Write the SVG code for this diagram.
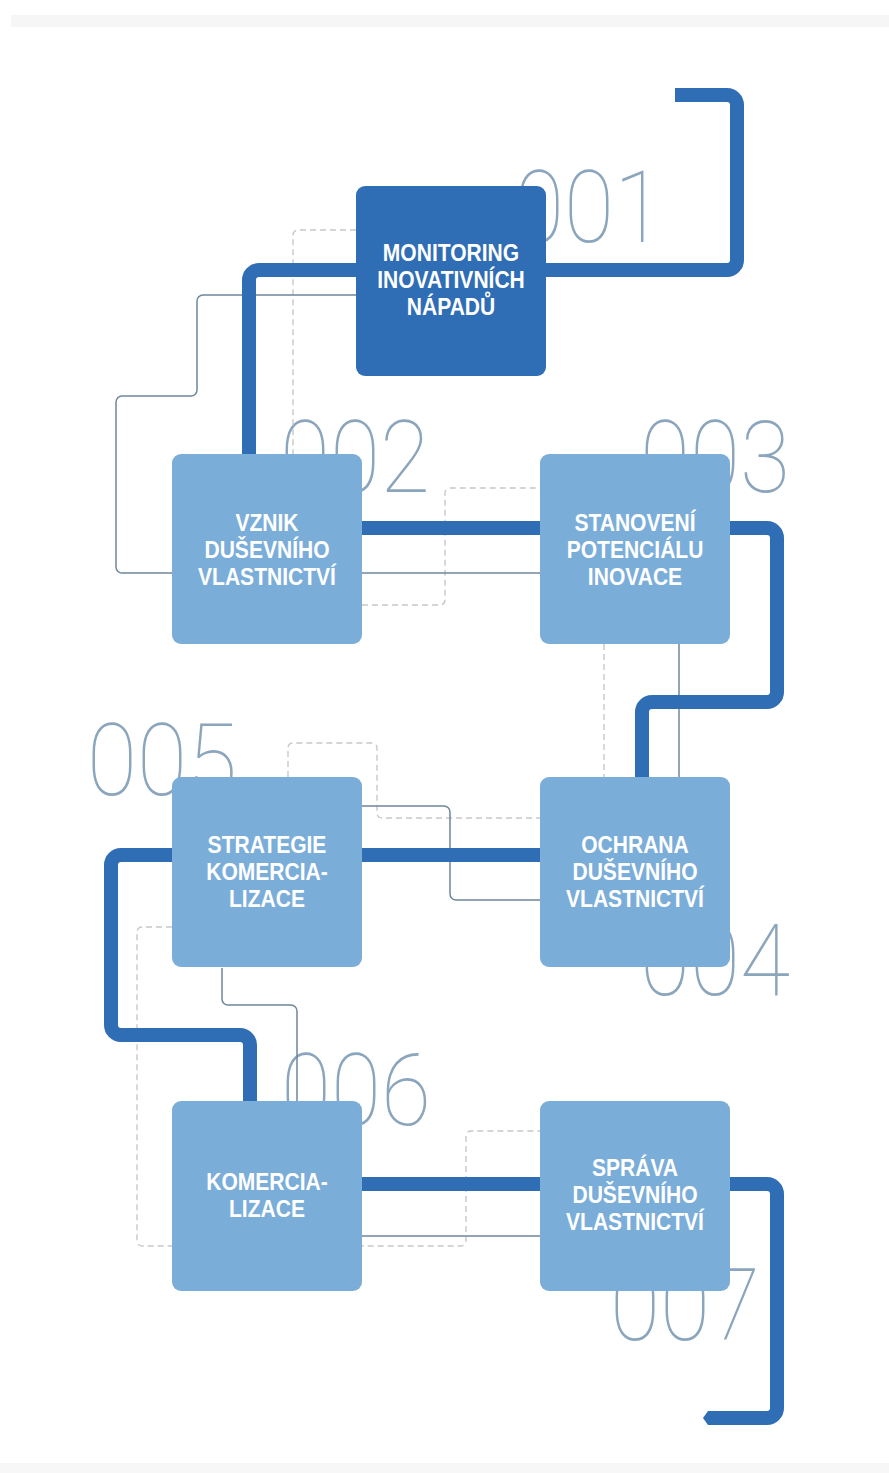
<svg xmlns="http://www.w3.org/2000/svg" width="889" height="1473" viewBox="0 0 889 1473">
<style>
.thick{fill:none;stroke:#2f6db5;stroke-width:14}
.thin{fill:none;stroke:#6f879b;stroke-width:1.5}
.dash{fill:none;stroke:#c8c8c8;stroke-width:1.4;stroke-dasharray:6 4}
.num{font-family:Roboto,"Open Sans",sans-serif;font-weight:100;font-size:101px;fill:#8ba5bc}
.lbl{font-family:"Liberation Sans",Arial,sans-serif;font-weight:bold;font-size:23px;fill:#ffffff;text-anchor:middle}
.dark{fill:#2f6db5}
.light{fill:#7badd9}
</style>
<rect x="0" y="0" width="889" height="1473" fill="#ffffff"/>
<rect x="11" y="15" width="878" height="12" fill="#f6f6f6"/>
<rect x="0" y="1463" width="889" height="10" fill="#f7f7f7"/>
<g id="numbers">
<text class="num" x="514" y="242" textLength="150" lengthAdjust="spacingAndGlyphs">001</text>
<text class="num" x="280" y="492" textLength="150" lengthAdjust="spacingAndGlyphs">002</text>
<text class="num" x="640" y="492" textLength="150" lengthAdjust="spacingAndGlyphs">003</text>
<text class="num" x="87" y="795" textLength="150" lengthAdjust="spacingAndGlyphs">005</text>
<text class="num" x="640" y="995" textLength="150" lengthAdjust="spacingAndGlyphs">004</text>
<text class="num" x="281" y="1125" textLength="150" lengthAdjust="spacingAndGlyphs">006</text>
<text class="num" x="610" y="1340" textLength="150" lengthAdjust="spacingAndGlyphs">007</text>
</g>
<g id="connectors">
<path class="dash" d="M356,230 H298 A5,5 0 0 0 293,235 V454"/>
<path class="dash" d="M362,605 H440 A5,5 0 0 0 445,600 V493 A5,5 0 0 1 450,488 H540"/>
<path class="dash" d="M604,644 V777"/>
<path class="dash" d="M288,777 V748 A5,5 0 0 1 293,743 H372 A5,5 0 0 1 377,748 V813 A5,5 0 0 0 382,818 H540"/>
<path class="dash" d="M172,927 H142 A5,5 0 0 0 137,932 V1241 A5,5 0 0 0 142,1246 H461 A5,5 0 0 0 466,1241 V1136 A5,5 0 0 1 471,1131 H540"/>
<path class="thin" d="M356,295 H203 A6,6 0 0 0 197,301 V390 A6,6 0 0 1 191,396 H122 A6,6 0 0 0 116,402 V567 A6,6 0 0 0 122,573 H172"/>
<path class="thin" d="M362,573 H540"/>
<path class="thin" d="M679,644 V777"/>
<path class="thin" d="M362,806 H444 A6,6 0 0 1 450,812 V894 A6,6 0 0 0 456,900 H540"/>
<path class="thin" d="M222,968 V999 A6,6 0 0 0 228,1005 H291 A6,6 0 0 1 297,1011 V1101"/>
<path class="thin" d="M362,1236 H540"/>
<path class="thick" d="M675,95 H727 A10,10 0 0 1 737,105 V260 A10,10 0 0 1 727,270 H259 A10,10 0 0 0 249,280 V454"/>
<path class="thick" d="M362,528 H540"/>
<path class="thick" d="M730,528 H767 A10,10 0 0 1 777,538 V692 A10,10 0 0 1 767,702 H652 A10,10 0 0 0 642,712 V777"/>
<path class="thick" d="M362,855 H540"/>
<path class="thick" d="M172,855 H121 A10,10 0 0 0 111,865 V1025 A10,10 0 0 0 121,1035 H240 A10,10 0 0 1 250,1045 V1101"/>
<path class="thick" d="M362,1184 H540"/>
<path class="thick" d="M730,1184 H767 A10,10 0 0 1 777,1194 V1408 A10,10 0 0 1 767,1418 H711"/>
<polygon points="712,1411 708,1411 703,1418 708,1425 712,1425" fill="#2f6db5"/>
</g>
<g id="node-001">
<rect class="dark" x="356" y="186" width="190" height="190" rx="9"/>
<text class="lbl" transform="translate(451,0) scale(0.915,1)"><tspan x="0" y="261">MONITORING</tspan><tspan x="0" y="288">INOVATIVNÍCH</tspan><tspan x="0" y="315">NÁPADŮ</tspan></text>
</g>
<g id="node-002">
<rect class="light" x="172" y="454" width="190" height="190" rx="9"/>
<text class="lbl" transform="translate(267,0) scale(0.915,1)"><tspan x="0" y="531">VZNIK</tspan><tspan x="0" y="558">DUŠEVNÍHO</tspan><tspan x="0" y="585">VLASTNICTVÍ</tspan></text>
</g>
<g id="node-003">
<rect class="light" x="540" y="454" width="190" height="190" rx="9"/>
<text class="lbl" transform="translate(635,0) scale(0.915,1)"><tspan x="0" y="531">STANOVENÍ</tspan><tspan x="0" y="558">POTENCIÁLU</tspan><tspan x="0" y="585">INOVACE</tspan></text>
</g>
<g id="node-005">
<rect class="light" x="172" y="777" width="190" height="190" rx="9"/>
<text class="lbl" transform="translate(267,0) scale(0.915,1)"><tspan x="0" y="853">STRATEGIE</tspan><tspan x="0" y="880">KOMERCIA-</tspan><tspan x="0" y="907">LIZACE</tspan></text>
</g>
<g id="node-004">
<rect class="light" x="540" y="777" width="190" height="190" rx="9"/>
<text class="lbl" transform="translate(635,0) scale(0.915,1)"><tspan x="0" y="853">OCHRANA</tspan><tspan x="0" y="880">DUŠEVNÍHO</tspan><tspan x="0" y="907">VLASTNICTVÍ</tspan></text>
</g>
<g id="node-006">
<rect class="light" x="172" y="1101" width="190" height="190" rx="9"/>
<text class="lbl" transform="translate(267,0) scale(0.915,1)"><tspan x="0" y="1190">KOMERCIA-</tspan><tspan x="0" y="1217">LIZACE</tspan></text>
</g>
<g id="node-007">
<rect class="light" x="540" y="1101" width="190" height="190" rx="9"/>
<text class="lbl" transform="translate(635,0) scale(0.915,1)"><tspan x="0" y="1176">SPRÁVA</tspan><tspan x="0" y="1203">DUŠEVNÍHO</tspan><tspan x="0" y="1230">VLASTNICTVÍ</tspan></text>
</g>
</svg>
